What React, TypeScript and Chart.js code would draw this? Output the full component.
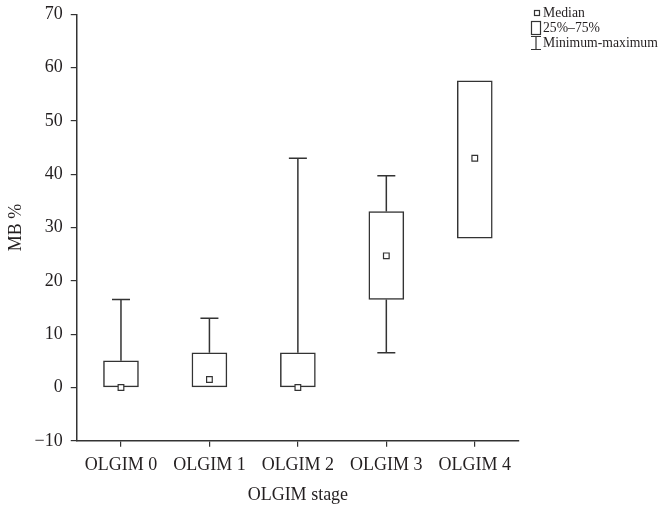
import React, { useEffect, useRef } from "react";
import { Chart, registerables } from "chart.js";

Chart.register(...registerables);

const categories = ["OLGIM 0", "OLGIM 1", "OLGIM 2", "OLGIM 3", "OLGIM 4"];
const minValues = [0, 0, 0, 6.5, 28];
const q1Values = [0, 0, 0, 16.5, 28];
const medianValues = [0, 1.5, 0, 24.7, 43];
const q3Values = [5, 6.5, 6.5, 33, 57.5];
const maxValues = [16.5, 13, 43, 39.7, 57.5];
const yTicksMin = -10;
const yTicksMax = 70;
const yTickStep = 10;
const legendLabels = ["Median", "25%\u201375%", "Minimum-maximum"];
const xTitle = "OLGIM stage";
const yTitle = "MB %";

const FONT = "'Liberation Serif', 'Times New Roman', serif";
const LINE = "#333333";
const TEXT = "#231f20";

const whiskerPlugin = {
  id: "whiskers",
  beforeDatasetsDraw(chart: any) {
    const ctx = chart.ctx;
    const x = chart.scales.x;
    const y = chart.scales.y;
    ctx.save();
    ctx.strokeStyle = LINE;
    ctx.lineWidth = 1.5;
    const capHalf = 9;
    categories.forEach((_, i) => {
      const px = x.getPixelForValue(i);
      const segs: [number, number][] = [];
      if (maxValues[i] > q3Values[i]) segs.push([q3Values[i], maxValues[i]]);
      if (minValues[i] < q1Values[i]) segs.push([q1Values[i], minValues[i]]);
      segs.forEach(([from, to]) => {
        const y0 = y.getPixelForValue(from);
        const y1 = y.getPixelForValue(to);
        ctx.beginPath();
        ctx.moveTo(px, y0);
        ctx.lineTo(px, y1);
        ctx.moveTo(px - capHalf, y1);
        ctx.lineTo(px + capHalf, y1);
        ctx.stroke();
      });
    });
    ctx.restore();
  },
};

const legendPlugin = {
  id: "customLegend",
  afterDraw(chart: any) {
    const ctx = chart.ctx;
    ctx.save();
    ctx.font = `13.7px ${FONT}`;
    ctx.textBaseline = "middle";
    ctx.textAlign = "left";
    const textX = 543;
    const rows = [13, 28, 43];
    ctx.strokeStyle = LINE;
    ctx.lineWidth = 1.2;
    // median marker
    ctx.fillStyle = "#fff";
    ctx.fillRect(534.5, rows[0] - 2.5, 5, 5);
    ctx.strokeRect(534.5, rows[0] - 2.5, 5, 5);
    // box marker
    ctx.strokeRect(531.5, rows[1] - 6.5, 9, 13);
    // min-max marker
    ctx.beginPath();
    ctx.moveTo(531, rows[2] - 6.5);
    ctx.lineTo(541, rows[2] - 6.5);
    ctx.moveTo(536, rows[2] - 6.5);
    ctx.lineTo(536, rows[2] + 6.5);
    ctx.moveTo(531, rows[2] + 6.5);
    ctx.lineTo(541, rows[2] + 6.5);
    ctx.stroke();
    ctx.fillStyle = TEXT;
    legendLabels.forEach((t, i) => ctx.fillText(t, textX, rows[i]));
    ctx.restore();
  },
};

export default function App() {
  const ref = useRef<HTMLCanvasElement | null>(null);
  useEffect(() => {
    if (!ref.current) return;
    const chart = new Chart(ref.current, {
      type: "bar",
      data: {
        labels: categories,
        datasets: [
          {
            type: "line",
            label: "Median",
            data: medianValues,
            showLine: false,
            pointStyle: "rect",
            pointRadius: 4,
            pointBackgroundColor: "#ffffff",
            pointBorderColor: LINE,
            pointBorderWidth: 1.2,
            order: 0,
          } as any,
          {
            type: "bar",
            label: "25%\u201375%",
            data: q1Values.map((q, i) => [q, q3Values[i]]),
            backgroundColor: "#ffffff",
            borderColor: LINE,
            borderWidth: 1.5,
            borderSkipped: false,
            barThickness: 35,
            order: 1,
          } as any,
        ],
      },
      options: {
        responsive: false,
        animation: false,
        events: [],
        layout: { padding: { top: 1, right: 140, bottom: 5, left: 5 } },
        plugins: {
          legend: { display: false },
          tooltip: { enabled: false },
        },
        scales: {
          x: {
            type: "category",
            offset: true,
            grid: {
              display: true,
              drawOnChartArea: false,
              drawTicks: true,
              tickLength: 6,
              offset: false,
              color: LINE,
              lineWidth: 1.2,
            },
            border: { display: true, color: LINE, width: 1.5 },
            ticks: {
              color: TEXT,
              font: { family: FONT, size: 18 },
              padding: 8,
              maxRotation: 0,
              autoSkip: false,
            },
            title: {
              display: true,
              text: xTitle,
              color: TEXT,
              font: { family: FONT, size: 18 },
              padding: { top: 0, bottom: 0 },
            },
          },
          y: {
            min: yTicksMin,
            max: yTicksMax,
            grid: {
              display: true,
              drawOnChartArea: false,
              drawTicks: true,
              tickLength: 6,
              color: LINE,
              lineWidth: 1.2,
            },
            border: { display: true, color: LINE, width: 1.5 },
            ticks: {
              stepSize: yTickStep,
              color: TEXT,
              font: { family: FONT, size: 18, lineHeight: 0.7 },
              padding: 8,
              callback: (v: any) => String(v).replace("-", "\u2212"),
            },
            title: {
              display: true,
              text: yTitle,
              color: TEXT,
              font: { family: FONT, size: 18 },
              padding: { top: 0, bottom: 0 },
            },
          },
        },
      },
      plugins: [whiskerPlugin, legendPlugin],
    });
    return () => chart.destroy();
  }, []);
  return (
    <div style={{ position: "fixed", left: 0, top: 0, width: 659, height: 511, background: "#fff" }}>
      <canvas ref={ref} width={659} height={511} />
    </div>
  );
}
